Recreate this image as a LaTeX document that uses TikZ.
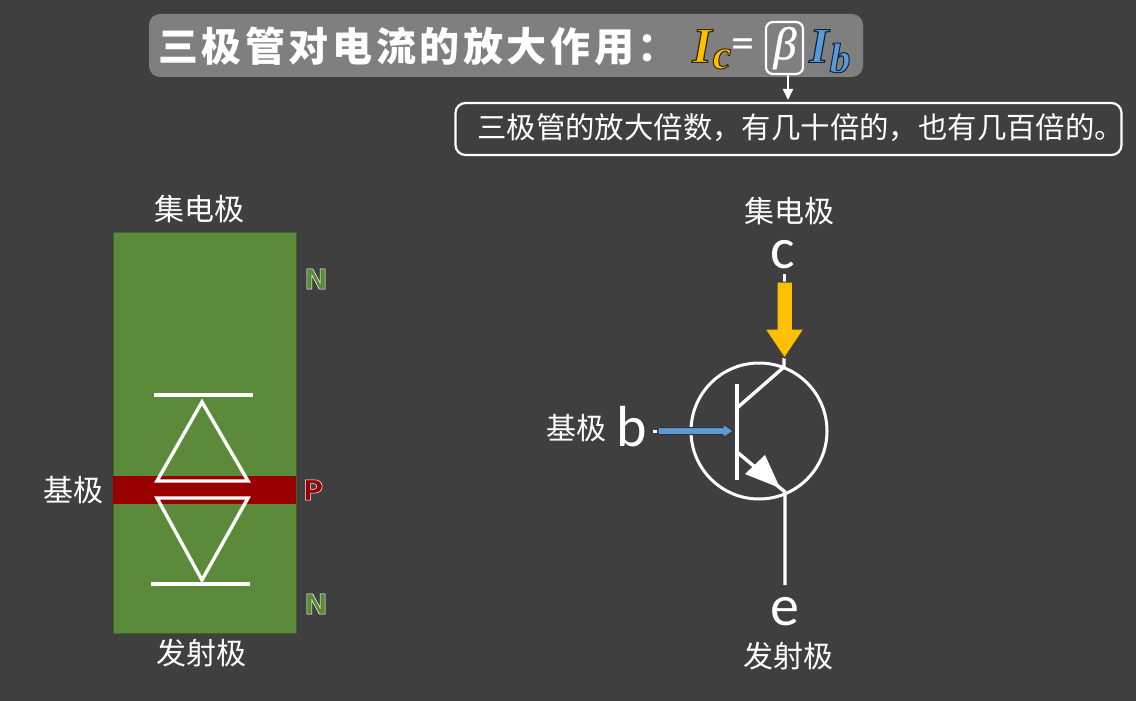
\documentclass[tikz,border=0pt]{standalone}
\usepackage{fontspec}
\usepackage{tikz}
\usetikzlibrary{shapes,arrows,arrows.meta,positioning}
\setmainfont{Noto Sans CJK SC}
\newfontfamily\latinfont{Carlito}
\newfontfamily\layerfont{DejaVu Sans}
\newfontfamily\eqfont{Liberation Serif}
\newfontfamily\titlefont[LetterSpace=9]{Noto Sans CJK SC}
\definecolor{bgGray}{HTML}{3F3F3F}
\definecolor{barGray}{HTML}{7F7F7F}
\definecolor{plateGreen}{HTML}{5B8B3A}
\definecolor{baseRed}{HTML}{980000}
\definecolor{lampYellow}{HTML}{FFC000}
\definecolor{skyBlue}{HTML}{5B9BD5}
\newcommand{\strokedtext}[3]{\special{pdf:literal #1 RG #2 w 2 Tr}#3\special{pdf:literal 0 Tr}}

\begin{document}
\begin{tikzpicture}[x=1pt, y=-1pt, align=center]
    \tikzset{
        tag/.style      =   { text=white
                            , inner sep=0pt
                            , font=\fontsize{30}{32}\selectfont
        }
        , lead/.style   =   { inner sep=0pt
                            , font=\latinfont\fontsize{58}{60}\selectfont
                            , text=white
        }
        , layer/.style  =   { inner sep=0pt
                            , font=\layerfont\bfseries\fontsize{28}{30}\selectfont
        }
        , sym/.style    =   { inner sep=0pt
                            , font=\eqfont\bfseries\itshape\fontsize{50}{52}\selectfont
        }
        , subsym/.style =   { inner sep=0pt
                            , font=\eqfont\bfseries\itshape\fontsize{42}{44}\selectfont
        }
        , wire/.style   =   { white
                            , line width=3.4pt
        }
    }
    \useasboundingbox[fill=bgGray] (0,0) rectangle (1136,701);

    % title bar
    \node(bar)[fill=barGray, rounded corners=11pt, minimum width=714pt, minimum height=63pt, inner sep=0pt] at (506,45.5) {};
    \node(title)[inner sep=0pt, text=white, font=\titlefont\bfseries\fontsize{40}{42}\selectfont, anchor=west] at (158,46) {三极管对电流的放大作用：};
    \node(ic)[sym, text=lampYellow] at (702,46) {\strokedtext{0.2 0.15 0}{1.2}{I}};
    \node(icsub)[subsym, text=lampYellow] at (722,59) {\strokedtext{0.2 0.15 0}{1}{c}};
    \node(eq)[inner sep=0pt, text=white, font=\latinfont\fontsize{46}{48}\selectfont] at (743,49) {=};
    \node(beta)[draw=white, line width=2.2pt, rounded corners=7pt, minimum width=37pt, minimum height=52pt, inner sep=0pt] at (784.5,48) {};
    \node(betatext)[inner sep=0pt, text=white, font=\eqfont\itshape\fontsize{46}{48}\selectfont] at (785,48) {\strokedtext{1 1 1}{0.4}{β}};
    \node(ib)[sym, text=skyBlue] at (819,46) {\strokedtext{0.05 0.15 0.25}{1.2}{I}};
    \node(ibsub)[subsym, text=skyBlue] at (840,58) {\strokedtext{0.05 0.15 0.25}{1}{b}};

    \node(note)[draw=white, line width=2.2pt, rounded corners=10pt, minimum width=666pt, minimum height=52pt, inner sep=0pt] at (788.5,129) {};
    \node(notetext)[tag, font=\fontsize{29.4}{32}\selectfont, anchor=west] at (477,128) {三极管的放大倍数，有几十倍的，也有几百倍的。};
    \coordinate(notein) at (788,100);
    \coordinate(betaout) at (788,75);
    \draw[white, line width=1.8pt, -{Triangle[width=10pt,length=11pt]}] (betaout) -- (notein);

    % left: layers
    \node(plate)[fill=plateGreen, draw=plateGreen!70!black, line width=0.6pt, minimum width=183pt, minimum height=401pt, inner sep=0pt] at (204.5,432.5) {};
    \node(base)[fill=baseRed, minimum width=183pt, minimum height=28pt, inner sep=0pt] at (204.5,490) {};
    \node(ctop)[tag, above=9pt of plate, xshift=-5pt] {集电极};
    \node(ebot)[tag, below=6pt of plate, xshift=-3pt] {发射极};
    \node(bleft)[tag, left=9pt of base] {基极};
    \node(n1)[layer, text=plateGreen] at (316,279) {\strokedtext{1 1 1}{0.5}{N}};
    \node(p1)[layer, text=baseRed] at (313,490) {\strokedtext{1 1 1}{0.5}{P}};
    \node(n2)[layer, text=plateGreen] at (316,604) {\strokedtext{1 1 1}{0.5}{N}};

    \coordinate(capa) at (154,395);
    \coordinate(capb) at (253,395);
    \coordinate(capc) at (151,584);
    \coordinate(capd) at (250,584);
    \draw[wire] (capa) -- (capb);
    \draw[wire] (capc) -- (capd);
    \draw[wire, miter limit=10] (202,402) -- (248,481) -- (157,481) -- cycle;
    \draw[wire, miter limit=10] (202,580) -- (248,498) -- (157,498) -- cycle;

    % right: symbol
    \node(ring)[draw=white, circle, line width=3pt, minimum size=136pt, inner sep=0pt] at (759,431) {};
    \coordinate(bartop) at (737,384);
    \coordinate(barbot) at (737,480);
    \coordinate(ckink) at (737,408);
    \coordinate(ekink) at (737,452);
    \coordinate(ctip) at (784,367);
    \coordinate(etip) at (785,492);
    \coordinate(eend) at (785,585);
    \draw[wire] (bartop) -- (barbot);
    \draw[wire] (ckink) -- (ctip) -- (784,358);
    \draw[wire] (ekink) -- (etip) -- (eend);
    \fill[white] (780,488) -- (765,455) -- (745,474) -- cycle;

    \node(cnote)[tag] at (789,211) {集电极};
    \node(cpin)[lead, text height=26pt, text depth=0pt, anchor=base] at (783,268) {c};
    \node(bpin)[lead, text height=38pt, text depth=0pt, anchor=base] at (632,446) {b};
    \node(bnote)[tag, left=10pt of bpin, yshift=-1pt] {基极};
    \node(epin)[lead, text height=26pt, text depth=0pt, anchor=base] at (785,625) {e};
    \node(enote)[tag, below=17pt of epin, xshift=3pt] {发射极};

    % currents
    \coordinate(cstub) at (784,274);
    \coordinate(cstart) at (784,282);
    \draw[white, line width=3pt] (cstub) -- (cstart);
    \fill[lampYellow, draw=black!75, line width=1pt, line join=miter] (777,282) -- (792.5,282) -- (792.5,329) -- (804,329) -- (784.5,358) -- (765,329) -- (777,329) -- cycle;
    \coordinate(bstub) at (653,431);
    \coordinate(bstart) at (657,431);
    \draw[white, line width=3pt] (bstub) -- (bstart);
    \fill[skyBlue, draw=black!80, line width=1pt] (658,427.5) -- (723,427.5) -- (723,424) -- (733.5,431) -- (723,438) -- (723,434.5) -- (658,434.5) -- cycle;
\end{tikzpicture}
\end{document}
